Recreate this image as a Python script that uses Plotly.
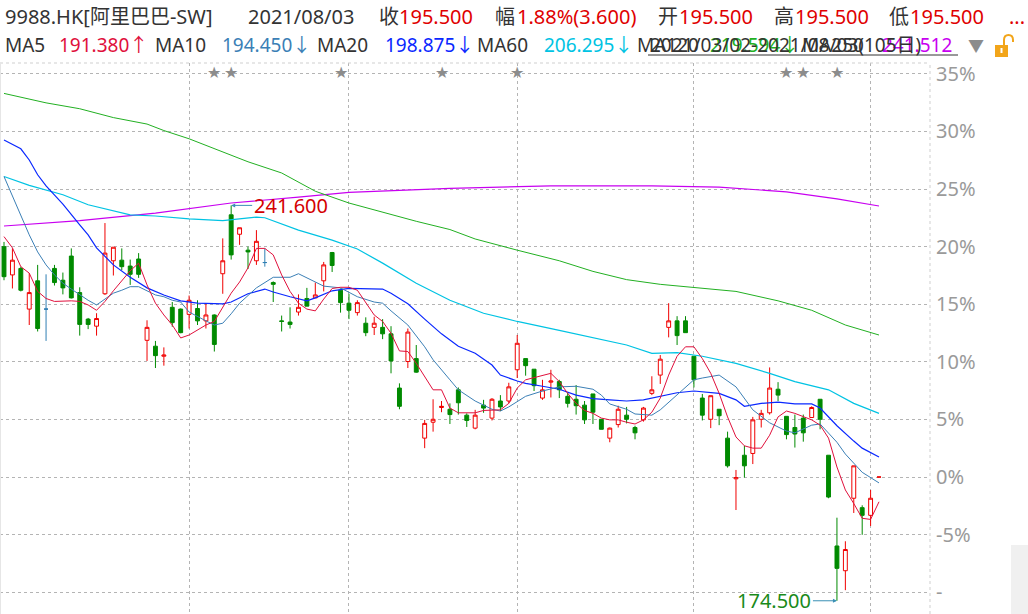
import plotly.graph_objects as go

# ---------------- data ----------------
# trading days shown (2021), by month
mar_days = [2, 3, 4, 5, 8, 9, 10, 11, 12, 15, 16, 17, 18, 19, 22, 23, 24, 25, 26, 29, 30, 31]
apr_days = [1, 7, 8, 9, 12, 13, 14, 15, 16, 19, 20, 21, 22, 23, 26, 27, 28, 29, 30]
may_days = [3, 4, 5, 6, 7, 10, 11, 12, 13, 14, 17, 18, 20, 21, 24, 25, 26, 27, 28, 31]
jun_days = [1, 2, 3, 4, 7, 8, 9, 10, 11, 15, 16, 17, 18, 21, 22, 23, 24, 25, 28, 29, 30]
jul_days = [2, 5, 6, 7, 8, 9, 12, 13, 14, 15, 16, 19, 20, 21, 22, 23, 26, 27, 28, 29, 30]
aug_days = [2, 3]

dates = ([f"2021-03-{d:02d}" for d in mar_days] + [f"2021-04-{d:02d}" for d in apr_days] +
         [f"2021-05-{d:02d}" for d in may_days] + [f"2021-06-{d:02d}" for d in jun_days] +
         [f"2021-07-{d:02d}" for d in jul_days] + [f"2021-08-{d:02d}" for d in aug_days])

open_ = [234.6, 229.8, 230.9, 224.0, 228.8, 224.0, 230.9, 228.9, 233.0, 226.8,
         222.3, 221.1, 226.6, 232.2, 232.3, 231.3, 232.5, 218.7, 217.7, 216.0,
         224.3, 224.0, 223.1, 224.1, 222.0, 223.0, 230.0, 240.0, 236.7, 234.0,
         232.2, 231.9, 228.5, 222.0, 221.8, 223.5, 225.8, 225.9, 228.8, 233.6,
         227.2, 225.0, 223.4, 221.6, 220.9, 220.9, 219.8, 210.6, 215.1, 215.6,
         202.1, 204.8, 207.3, 207.0, 210.3, 206.0, 203.8, 207.7, 205.5, 208.4,
         208.4, 213.7, 215.6, 213.8, 208.9, 211.6, 211.7, 209.2, 208.7, 207.7,
         209.6, 205.3, 202.1, 204.4, 206.0, 203.9, 205.2, 209.7, 212.8, 220.9,
         222.0, 222.0, 216.0, 208.9, 205.3, 207.0, 202.1, 195.2, 199.2, 199.5,
         205.3, 206.4, 210.4, 205.8, 203.9, 205.5, 205.6, 208.7, 199.2, 183.8,
         179.6, 191.9, 190.3, 189.0, 195.5]
high = [235.4, 234.3, 231.2, 230.1, 231.5, 229.9, 231.5, 230.2, 234.3, 227.7,
        222.5, 223.3, 238.6, 234.5, 234.3, 232.4, 233.5, 222.1, 218.6, 217.5,
        225.2, 224.1, 226.3, 225.5, 225.0, 223.1, 236.0, 241.6, 237.8, 234.6,
        237.4, 234.3, 228.7, 222.9, 224.3, 226.5, 227.6, 228.5, 232.0, 233.7,
        227.5, 226.6, 225.5, 222.6, 222.7, 222.3, 221.1, 211.4, 220.7, 217.9,
        205.2, 208.7, 208.4, 208.0, 210.7, 206.3, 206.9, 208.6, 208.9, 209.4,
        211.5, 219.6, 215.6, 213.8, 212.0, 213.7, 212.0, 209.8, 211.1, 208.4,
        209.6, 205.3, 203.9, 207.6, 207.4, 204.2, 207.4, 212.6, 216.2, 225.0,
        222.8, 222.8, 216.0, 209.6, 209.3, 207.0, 203.2, 196.7, 200.8, 205.7,
        206.9, 214.1, 211.6, 205.8, 206.1, 206.1, 207.5, 208.7, 199.2, 188.6,
        184.6, 197.4, 190.7, 193.3, 195.5]
low = [228.9, 227.5, 227.0, 221.3, 220.2, 218.6, 228.0, 226.5, 225.8, 219.5,
       220.6, 219.5, 226.4, 229.7, 230.6, 228.1, 229.3, 215.2, 214.0, 214.4,
       221.0, 219.9, 220.7, 221.3, 220.7, 216.8, 226.6, 232.4, 234.9, 230.8,
       231.5, 231.2, 225.2, 220.2, 220.7, 222.9, 224.5, 225.9, 227.0, 230.3,
       223.4, 222.3, 222.9, 219.4, 219.6, 218.9, 213.1, 207.0, 214.0, 213.2,
       200.4, 203.2, 206.5, 204.5, 206.1, 204.0, 203.6, 206.4, 205.1, 206.7,
       208.0, 212.3, 212.7, 210.1, 208.6, 209.0, 208.9, 207.3, 206.1, 204.5,
       204.5, 203.6, 201.4, 203.9, 204.6, 201.9, 204.9, 209.4, 211.3, 219.2,
       217.9, 220.0, 210.7, 205.1, 203.8, 204.3, 197.1, 189.9, 195.4, 197.7,
       203.9, 206.1, 208.4, 201.9, 200.5, 201.5, 205.6, 203.6, 191.9, 174.5,
       176.3, 189.4, 185.7, 187.2, 195.5]
close = [229.5, 232.3, 227.2, 226.8, 220.7, 224.0, 228.5, 227.6, 225.9, 221.4,
         221.4, 222.4, 233.5, 234.5, 231.2, 229.9, 229.9, 220.9, 216.1, 216.2,
         221.7, 220.0, 225.5, 222.0, 223.0, 218.0, 232.2, 233.2, 237.8, 233.7,
         235.5, 231.9, 228.2, 221.9, 221.4, 224.3, 224.5, 226.4, 231.5, 231.4,
         225.1, 223.8, 225.1, 220.0, 221.6, 219.8, 215.2, 207.5, 220.1, 213.3,
         204.6, 205.3, 207.5, 206.1, 208.1, 205.1, 206.0, 207.2, 208.7, 207.4,
         210.8, 218.2, 214.4, 211.0, 210.3, 211.8, 210.3, 208.0, 207.6, 205.2,
         206.5, 203.6, 203.8, 207.0, 205.3, 203.0, 207.2, 210.3, 215.5, 222.0,
         219.5, 220.0, 212.0, 206.0, 209.3, 205.9, 197.4, 195.4, 197.4, 205.2,
         206.3, 210.6, 209.4, 202.7, 202.8, 203.0, 207.3, 205.3, 192.1, 180.0,
         183.2, 197.4, 189.0, 191.9, 195.5]

ma5 = [236.3, 234.4, 231.2, 230.1, 227.0, 225.8, 225.3, 225.4, 225.4, 225.3,
       224.7, 223.8, 225.3, 227.1, 228.9, 230.5, 231.8, 228.1, 225.0, 223.0,
       221.3, 219.1, 219.6, 220.4, 221.3, 221.9, 224.4, 226.7, 228.6, 231.0,
       234.3, 234.3, 233.2, 229.8, 227.0, 225.0, 224.0, 223.7, 225.7, 227.5,
       227.7, 227.7, 227.2, 225.0, 223.0, 221.9, 219.9, 216.9, 216.8, 214.8,
       212.5, 210.3, 210.3, 207.2, 206.4, 206.4, 206.4, 206.8, 206.9, 206.9,
       208.0, 210.6, 212.0, 212.4, 212.8, 213.1, 211.7, 209.7, 208.0, 206.8,
       206.3, 205.5, 205.2, 205.2, 204.8, 204.5, 205.2, 206.5, 208.9, 212.8,
       216.0, 217.6, 217.6, 215.6, 213.1, 209.7, 205.7, 202.3, 200.8, 200.4,
       200.4, 202.6, 205.7, 206.7, 206.3, 205.8, 205.2, 204.3, 202.1, 197.2,
       193.3, 191.0, 188.5, 188.3, 191.3]

ma10_idx = [0, 1, 2, 3, 4, 5, 6, 7, 8, 9, 10, 11, 12, 13, 14, 15, 16, 17, 18, 19, 20, 21, 22,
            24, 25, 26, 27, 28, 30, 32, 34, 35, 37, 38, 40, 42, 44, 45, 46, 48,
            50, 51, 53, 54, 56, 58, 59, 60, 62, 64, 66, 68, 70, 71, 72, 74, 75, 77, 78, 80,
            82, 83, 85, 87, 89, 91, 93, 94, 96, 97, 98, 99, 100, 102, 104]
ma10_val = [246.5, 243.2, 239.8, 236.6, 233.7, 231.5, 229.8, 228.4, 227.4, 226.4, 225.5, 224.7,
            225.7, 226.7, 227.2, 227.8, 227.8, 227.1, 226.4, 226.1, 225.5, 225.2, 223.5,
            222.0, 221.3, 221.6, 223.2, 225.0, 227.6, 229.4, 229.4, 230.0, 228.6, 227.9, 227.6,
            226.1, 225.2, 225.0, 223.7, 221.3,
            217.6, 215.4, 212.0, 210.3, 208.4, 207.0, 206.7, 207.4, 209.2, 210.1, 210.8, 210.9,
            210.4, 209.4, 207.9, 207.0, 206.2, 206.0, 206.9, 209.4, 212.0, 212.3, 212.8, 210.8,
            206.9, 204.7, 203.3, 203.0, 204.3, 204.5, 203.0, 201.4, 199.4, 196.3, 194.5]

ma20_idx = [0, 2, 3, 4, 5, 6, 7, 9, 10, 11, 13, 15, 17, 19, 21, 23, 26, 27, 29, 31,
            32, 34, 36, 37, 39, 41, 45, 46, 48, 50, 52, 54, 56, 58, 59, 61, 62, 64, 66, 68,
            70, 72, 74, 76, 78, 80, 82, 84, 85, 87, 88, 90, 92, 94, 96, 97, 99, 101, 102, 104]
ma20_val = [252.7, 251.2, 249.3, 246.8, 244.9, 243.4, 241.8, 238.3, 236.6, 234.4,
            231.5, 229.4, 227.6, 226.4, 225.4, 225.0, 224.9, 225.2, 226.6, 227.4,
            226.9, 226.1, 225.4, 225.9, 227.1, 227.5, 227.4, 226.7, 224.9, 222.3,
            219.8, 217.7, 216.5, 214.5, 212.8, 211.8, 211.4, 210.9, 210.4, 209.4,
            208.8, 208.6, 208.4, 208.6, 209.2, 209.8, 210.1, 209.8, 209.7, 208.6,
            207.5, 208.0, 208.2, 207.9, 207.9, 207.2, 204.2, 201.6, 200.4, 198.9]

ma60_idx = [0, 3, 7, 10, 15, 18, 22, 26, 30, 31, 35, 39, 42, 45, 49, 53, 57, 61, 66, 70,
            74, 77, 80, 83, 87, 91, 94, 98, 101, 104]
ma60_val = [246.5, 245.0, 243.4, 241.7, 240.0, 239.8, 239.3, 239.0, 239.6, 239.5,
            237.4, 235.7, 234.2, 231.8, 228.4, 225.5, 223.3, 221.9, 220.4, 219.2,
            217.9, 216.5, 216.6, 216.0, 214.8, 213.1, 211.7, 210.3, 208.0, 206.3]

ma120_idx = [0, 5, 9, 13, 17, 19, 22, 25, 29, 33, 37, 41, 45, 49, 53, 56, 61, 66, 70, 74,
             78, 82, 87, 92, 96, 100, 104]
ma120_val = [260.6, 259.0, 258.0, 256.5, 255.4, 254.3, 252.9, 251.2, 249.0, 247.1,
             244.0, 242.0, 240.4, 238.9, 237.5, 235.9, 234.0, 232.2, 230.4, 229.0,
             228.2, 227.7, 227.0, 225.4, 223.8, 221.3, 219.6]

ma250_idx = [0, 9, 18, 27, 35, 41, 53, 65, 77, 85, 93, 99, 104]
ma250_val = [238.1, 239.0, 240.3, 242.0, 243.0, 243.8, 244.5, 244.9, 244.9, 244.7, 243.9, 242.7, 241.5]

star_idx = [25, 27, 40, 52, 61, 93, 95, 99]

base_price = 195.5
pct_ticks = [-10, -5, 0, 5, 10, 15, 20, 25, 30, 35]
pct_labels = ["-", "-5%", "0%", "5%", "10%", "15%", "20%", "25%", "30%", "35%"]

header1 = [("9988.HK[阿里巴巴-SW]", "dark"), ("2021/08/03", "dark"), ("收", "dark"), ("195.500", "red"),
           ("幅", "dark"), ("1.88%(3.600)", "red"), ("开", "dark"), ("195.500", "red"),
           ("高", "dark"), ("195.500", "red"), ("低", "dark"), ("195.500", "red"), ("...", "red")]
header2 = [("MA5", "dark"), ("191.380↑", "ma5"), ("MA10", "dark"), ("194.450↓", "ma10"),
           ("MA20", "dark"), ("198.875↓", "ma20"), ("MA60", "dark"), ("206.295↓", "ma60"),
           ("MA120", "dark"), ("219.594↓", "ma120"), ("MA250", "dark"), ("241.512", "ma250")]
range_label = "2021/03/02-2021/08/03(105日)"
high_label = "241.600"
low_label = "174.500"

# ---------------- style ----------------
W, H = 1028, 614
PL, PR, PT, PB = 0, 930, 63, 614  # plot area in pixels
def xp(px):
    return (px - PL) / (PR - PL)
def yp(py):
    return (PB - py) / (PB - PT)

C = {"dark": "#333333", "red": "#e00000", "ma5": "#e0103c", "ma10": "#3b7fb6", "ma20": "#0a28ff",
     "ma60": "#00c3e3", "ma120": "#22b022", "ma250": "#c800f0"}
UP, DOWN, FLAT = "#f00000", "#008a00", "#2f7fb3"
FONT = "Noto Sans, Noto Sans CJK SC, sans-serif"

fig = go.Figure()

up_i, dn_i, fl_i = [], [], []
for i, (o, h, l, c) in enumerate(zip(open_, high, low, close)):
    if c > o or (c == o and h == l):
        up_i.append(i)
    elif c < o:
        dn_i.append(i)
    else:
        fl_i.append(i)

def candle(ids, line_col, fill_col):
    return go.Candlestick(
        x=ids, open=[open_[i] for i in ids], high=[high[i] for i in ids],
        low=[low[i] for i in ids], close=[close[i] for i in ids],
        increasing=dict(line=dict(color=line_col, width=1), fillcolor=fill_col),
        decreasing=dict(line=dict(color=line_col, width=1), fillcolor=fill_col),
        whiskerwidth=0, showlegend=False, hoverinfo="skip",
        text=[dates[i] for i in ids])

fig.add_trace(candle(dn_i, DOWN, DOWN))
fig.add_trace(candle(up_i, UP, "#ffffff"))
fig.add_trace(candle(fl_i, FLAT, FLAT))

for xs, ys, col, w in [(ma250_idx, ma250_val, C["ma250"], 1.2),
                       (ma120_idx, ma120_val, C["ma120"], 1.0),
                       (ma60_idx, ma60_val, C["ma60"], 1.2),
                       (ma20_idx, ma20_val, C["ma20"], 1.2),
                       (ma10_idx, ma10_val, C["ma10"], 1.0),
                       (list(range(len(ma5))), ma5, C["ma5"], 1.0)]:
    fig.add_trace(go.Scatter(x=xs, y=ys, mode="lines", line=dict(color=col, width=w),
                             showlegend=False, hoverinfo="skip"))

# month boundaries for vertical grid
month_start = [i for i in range(1, len(dates)) if dates[i][5:7] != dates[i - 1][5:7]]

pct_lo, pct_hi = -11.89, 35.94
fig.update_layout(
    width=W, height=H, template="none",
    margin=dict(l=PL, r=W - PR, t=PT, b=H - PB, pad=0),
    paper_bgcolor="white", plot_bgcolor="white",
    showlegend=False, hovermode=False, boxgap=0.34,
    font=dict(family=FONT, color=C["dark"]),
)
fig.update_xaxes(range=[-0.475, 110.06], tickvals=month_start, showticklabels=False,
                 showgrid=True, gridcolor="#b4b4b4", griddash="dot", gridwidth=1,
                 zeroline=False, showline=False, ticks="", rangeslider=dict(visible=False),
                 fixedrange=True)
fig.update_yaxes(side="right", range=[base_price * (1 + pct_lo / 100), base_price * (1 + pct_hi / 100)],
                 tickvals=[base_price * (1 + k / 100) for k in pct_ticks], ticktext=pct_labels,
                 showgrid=True, gridcolor="#b4b4b4", griddash="dot", gridwidth=1,
                 zeroline=False, showline=False, ticks="", ticklabelstandoff=5,
                 tickfont=dict(size=20, color="#9a9a9a", family=FONT), fixedrange=True)

ann = []
# header line 1
x1 = [3, 246, 377, 397, 493, 515, 656, 677, 772, 793, 887, 908, 1007]
for (t, ck), px in zip(header1, x1):
    ann.append(dict(text=t, x=xp(px), y=yp(16), xref="paper", yref="paper", xanchor="left",
                    yanchor="middle", showarrow=False, font=dict(size=20, color=C[ck], family=FONT)))
x2 = [3, 57, 153, 220, 315, 383, 475, 542, 635, 708, 800, 880]
for (t, ck), px in zip(header2, x2):
    ann.append(dict(text=t, x=xp(px), y=yp(45), xref="paper", yref="paper", xanchor="left",
                    yanchor="middle", showarrow=False, font=dict(size=19, color=C[ck], family=FONT)))
ann.append(dict(text=range_label, x=xp(648), y=yp(45), xref="paper", yref="paper", xanchor="left",
                yanchor="middle", showarrow=False, font=dict(size=19, color=C["dark"], family=FONT)))
ann.append(dict(text="▼", x=xp(976), y=yp(46), xref="paper", yref="paper", xanchor="center",
                yanchor="middle", showarrow=False, font=dict(size=16, color="#8c8c8c", family=FONT)))
# stars
for si in star_idx:
    ann.append(dict(text="★", x=si, y=yp(73), xref="x", yref="paper", xanchor="center",
                    yanchor="middle", showarrow=False, font=dict(size=16, color="#8c8c8c", family="DejaVu Sans")))
# high / low labels
hi_i = high.index(max(high))
lo_i = low.index(min(low))
ann.append(dict(text=high_label, x=hi_i, y=high[hi_i], xref="x", yref="y", ax=21, ay=0,
                xanchor="left", yanchor="middle", showarrow=True, arrowhead=2, arrowsize=0.8,
                arrowwidth=1, arrowcolor="#3a8fb5", font=dict(size=20, color="#d40000", family=FONT)))
ann.append(dict(text=low_label, x=lo_i, y=low[lo_i], xref="x", yref="y", ax=-24, ay=0,
                xanchor="right", yanchor="middle", showarrow=True, arrowhead=2, arrowsize=0.8,
                arrowwidth=1, arrowcolor="#3a8fb5", font=dict(size=20, color="#1a8a1a", family=FONT)))
fig.update_layout(annotations=ann)

shapes = [
    dict(type="line", xref="paper", yref="paper", x0=0, x1=1, y0=1, y1=1,
         line=dict(color="#cfcfcf", width=1, dash="dot")),
    dict(type="line", xref="paper", yref="paper", x0=1, x1=1, y0=0, y1=1,
         line=dict(color="#cfcfcf", width=1, dash="dot")),
    dict(type="line", xref="paper", yref="paper", x0=xp(0.5), x1=xp(0.5), y0=0, y1=1,
         line=dict(color="#e6e6e6", width=1)),
    dict(type="line", xref="paper", yref="paper", x0=xp(648), x1=xp(958), y0=yp(55), y1=yp(55),
         line=dict(color="#333333", width=1)),
    dict(type="rect", xref="paper", yref="paper", x0=xp(1011), x1=xp(1028), y0=yp(614), y1=yp(545),
         fillcolor="#f0f0f0", line=dict(width=0)),
    # lock icon
    dict(type="rect", xref="paper", yref="paper", x0=xp(995), x1=xp(1008), y0=yp(57), y1=yp(45),
         fillcolor="#f2a51a", line=dict(width=0)),
    dict(type="rect", xref="paper", yref="paper", x0=xp(1000.5), x1=xp(1002.5), y0=yp(53), y1=yp(48),
         fillcolor="#ffffff", line=dict(width=0)),
    dict(type="path", xref="paper", yref="paper",
         path=f"M {xp(1004)},{yp(45)} L {xp(1004)},{yp(40)} Q {xp(1004)},{yp(35)} {xp(1008.5)},{yp(35)} "
              f"Q {xp(1013)},{yp(35)} {xp(1013)},{yp(40)} L {xp(1013)},{yp(42)}",
         line=dict(color="#f2a51a", width=2)),
]
fig.update_layout(shapes=shapes)

fig.write_html("out.html", include_plotlyjs=True, post_script="document.body.style.margin='0';",
               config={"displayModeBar": False})
